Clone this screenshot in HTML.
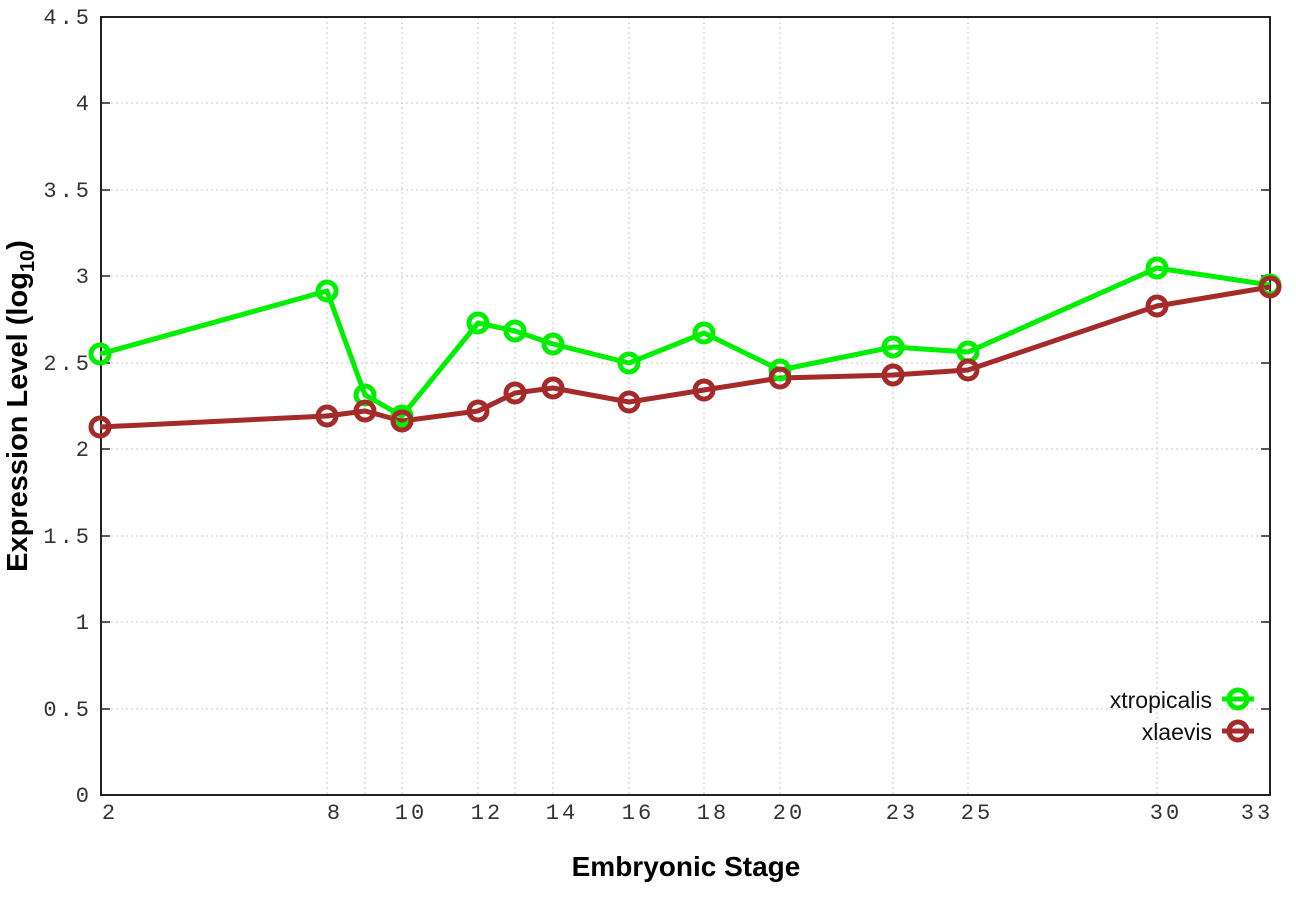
<!DOCTYPE html><html><head><style>body{margin:0;background:#fff}svg{display:block}</style></head><body>
<svg width="1296" height="907" xmlns="http://www.w3.org/2000/svg">
<g stroke="#c8c8c8" stroke-dasharray="2,3" stroke-width="1">
<line x1="101" x2="1270" y1="709" y2="709"/><line x1="101" x2="1270" y1="622" y2="622"/><line x1="101" x2="1270" y1="536" y2="536"/><line x1="101" x2="1270" y1="449" y2="449"/><line x1="101" x2="1270" y1="363" y2="363"/><line x1="101" x2="1270" y1="276" y2="276"/><line x1="101" x2="1270" y1="190" y2="190"/><line x1="101" x2="1270" y1="103" y2="103"/>
<line y1="17" y2="795" x1="327" x2="327"/><line y1="17" y2="795" x1="365" x2="365"/><line y1="17" y2="795" x1="402" x2="402"/><line y1="17" y2="795" x1="478" x2="478"/><line y1="17" y2="795" x1="515" x2="515"/><line y1="17" y2="795" x1="553" x2="553"/><line y1="17" y2="795" x1="629" x2="629"/><line y1="17" y2="795" x1="704" x2="704"/><line y1="17" y2="795" x1="780" x2="780"/><line y1="17" y2="795" x1="893" x2="893"/><line y1="17" y2="795" x1="968" x2="968"/><line y1="17" y2="795" x1="1157" x2="1157"/>
</g>
<rect x="101" y="17" width="1169" height="778" fill="none" stroke="#222" stroke-width="2"/>
<g stroke="#222" stroke-width="1.5">
<line x1="101" x2="110" y1="709" y2="709"/><line x1="101" x2="110" y1="622" y2="622"/><line x1="101" x2="110" y1="536" y2="536"/><line x1="101" x2="110" y1="449" y2="449"/><line x1="101" x2="110" y1="363" y2="363"/><line x1="101" x2="110" y1="276" y2="276"/><line x1="101" x2="110" y1="190" y2="190"/><line x1="101" x2="110" y1="103" y2="103"/>
<line x1="1261" x2="1270" y1="709" y2="709"/><line x1="1261" x2="1270" y1="622" y2="622"/><line x1="1261" x2="1270" y1="536" y2="536"/><line x1="1261" x2="1270" y1="449" y2="449"/><line x1="1261" x2="1270" y1="363" y2="363"/><line x1="1261" x2="1270" y1="276" y2="276"/><line x1="1261" x2="1270" y1="190" y2="190"/><line x1="1261" x2="1270" y1="103" y2="103"/>
</g>
<g font-family="Liberation Mono,monospace" font-size="22" fill="#333" text-anchor="end" letter-spacing="3">
<text x="92" y="802">0</text><text x="92" y="716">0.5</text><text x="92" y="629">1</text><text x="92" y="543">1.5</text><text x="92" y="456">2</text><text x="92" y="370">2.5</text><text x="92" y="283">3</text><text x="92" y="197">3.5</text><text x="92" y="110">4</text><text x="92" y="24">4.5</text>
</g>
<g font-family="Liberation Mono,monospace" font-size="22" fill="#333" text-anchor="middle" letter-spacing="3">
<text x="110" y="819">2</text><text x="335" y="819">8</text><text x="411" y="819">10</text><text x="487" y="819">12</text><text x="562" y="819">14</text><text x="638" y="819">16</text><text x="713" y="819">18</text><text x="789" y="819">20</text><text x="902" y="819">23</text><text x="977" y="819">25</text><text x="1166" y="819">30</text><text x="1257" y="819">33</text>
</g>
<text x="686" y="876" font-family="Liberation Sans,sans-serif" font-weight="bold" font-size="28" text-anchor="middle">Embryonic Stage</text>
<text transform="translate(27,406) rotate(-90)" font-family="Liberation Sans,sans-serif" font-weight="bold" font-size="29" text-anchor="middle">Expression Level (log<tspan font-size="20" dy="7">10</tspan><tspan dy="-7">)</tspan></text>
<g fill="none" stroke-width="5" stroke-linejoin="round">
<polyline stroke="#00ee00" points="100,354 327,291 365,395 402,416 478,323 515,331 553,344 629,363 704,333 780,370 893,347 968,352 1157,268 1270,285"/>
<polyline stroke="#a52a2a" points="100,427 327,416 365,411 402,421 478,411 515,393 553,388 629,402 704,390 780,378 893,375 968,370 1157,306 1270,287"/>
<g stroke="#00ee00"><circle cx="100" cy="354" r="9"/><circle cx="327" cy="291" r="9"/><circle cx="365" cy="395" r="9"/><circle cx="402" cy="416" r="9"/><circle cx="478" cy="323" r="9"/><circle cx="515" cy="331" r="9"/><circle cx="553" cy="344" r="9"/><circle cx="629" cy="363" r="9"/><circle cx="704" cy="333" r="9"/><circle cx="780" cy="370" r="9"/><circle cx="893" cy="347" r="9"/><circle cx="968" cy="352" r="9"/><circle cx="1157" cy="268" r="9"/><circle cx="1270" cy="285" r="9"/></g>
<g stroke="#a52a2a"><circle cx="100" cy="427" r="9"/><circle cx="327" cy="416" r="9"/><circle cx="365" cy="411" r="9"/><circle cx="402" cy="421" r="9"/><circle cx="478" cy="411" r="9"/><circle cx="515" cy="393" r="9"/><circle cx="553" cy="388" r="9"/><circle cx="629" cy="402" r="9"/><circle cx="704" cy="390" r="9"/><circle cx="780" cy="378" r="9"/><circle cx="893" cy="375" r="9"/><circle cx="968" cy="370" r="9"/><circle cx="1157" cy="306" r="9"/><circle cx="1270" cy="287" r="9"/></g>
<line x1="1222" x2="1254" y1="699" y2="699" stroke="#00ee00"/><circle cx="1238" cy="699" r="9" stroke="#00ee00"/>
<line x1="1222" x2="1254" y1="731" y2="731" stroke="#a52a2a"/><circle cx="1238" cy="731" r="9" stroke="#a52a2a"/>
</g>
<g font-family="Liberation Sans,sans-serif" font-size="23" fill="#111" text-anchor="end">
<text x="1212" y="708">xtropicalis</text><text x="1212" y="740">xlaevis</text>
</g>
</svg></body></html>
